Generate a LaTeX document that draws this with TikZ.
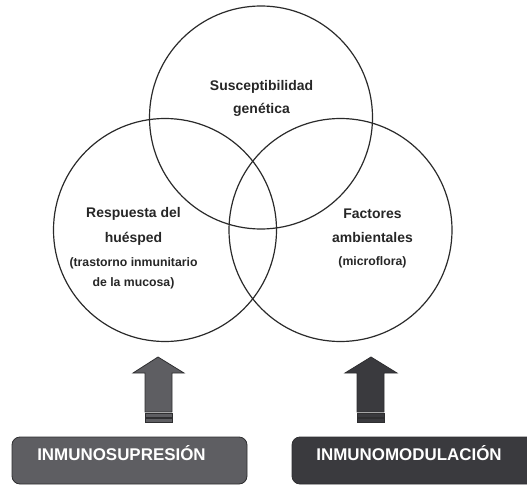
\documentclass[tikz,border=0pt]{standalone}
\usepackage{fontspec}
\setmainfont{Liberation Sans}
\definecolor{ringc}{HTML}{2A2A2A}
\definecolor{graymid}{HTML}{5E5E62}
\definecolor{graydark}{HTML}{3A3A3E}
\definecolor{edgec}{HTML}{2E2E30}
\begin{document}
\begin{tikzpicture}[x=1bp,y=-1bp,
  ring/.style={circle, draw=ringc, line width=1.2bp, minimum size=223bp, inner sep=0pt, outer sep=0pt},
  lab/.style={anchor=base, font=\bfseries\fontsize{14}{16}\selectfont, text=black!85, inner sep=0pt},
  sublab/.style={anchor=base, font=\bfseries\fontsize{12.3}{14}\selectfont, text=black!85, inner sep=0pt},
  boxtxt/.style={anchor=base, font=\bfseries\fontsize{17}{19}\selectfont, text=white, inner sep=0pt},
  arrowshape/.style={draw=edgec, line width=0.8bp, line join=miter}
]
\useasboundingbox (0,0) rectangle (527,485);
\clip (0,0) rectangle (527,485);

% circles
\node[ring] (gen) at (261,117.5) {};
\node[ring] (host) at (165,230) {};
\node[ring] (env) at (340.5,230) {};

% labels
\node[lab] (g1) at (261.5,91) {Susceptibilidad};
\node[lab] (g2) at (261.5,114) {genética};

\node[lab] (h1) at (133.5,217) {Respuesta del};
\node[lab] (h2) at (133.5,242) {huésped};
\node[sublab] (h3) at (133.5,266.5) {(trastorno inmunitario};
\node[sublab] (h4) at (133.5,286.5) {de la mucosa)};

\node[lab] (e1) at (372.5,218) {Factores};
\node[lab] (e2) at (372.5,242) {ambientales};
\node[sublab] (e3) at (372.5,265.5) {(microflora)};

% boxes
\draw[fill=graymid, draw=edgec, line width=0.8bp, rounded corners=8bp] (12,437) rectangle (247,484);
\draw[fill=graydark, draw=edgec, line width=0.8bp, rounded corners=8bp] (292,437) rectangle (540,484);
\node[boxtxt] (sup) at (121.5,460) {INMUNOSUPRESIÓN};
\node[boxtxt] (mod) at (409,460) {INMUNOMODULACIÓN};

% left arrow
\fill[graymid, arrowshape] (158,357) -- (184,373) -- (172,373) -- (172,412) -- (145,412) -- (145,373) -- (133,373) -- cycle;
\fill[graymid, arrowshape] (145,413.8) rectangle (172,417);
\fill[graymid, arrowshape] (145,418.6) rectangle (172,422);

% right arrow
\fill[graydark, arrowshape] (371,357) -- (397,373) -- (384,373) -- (384,412) -- (357,412) -- (357,373) -- (345,373) -- cycle;
\fill[graydark, arrowshape] (357,413.8) rectangle (384,417);
\fill[graydark, arrowshape] (357,418.6) rectangle (384,422);
\end{tikzpicture}
\end{document}
